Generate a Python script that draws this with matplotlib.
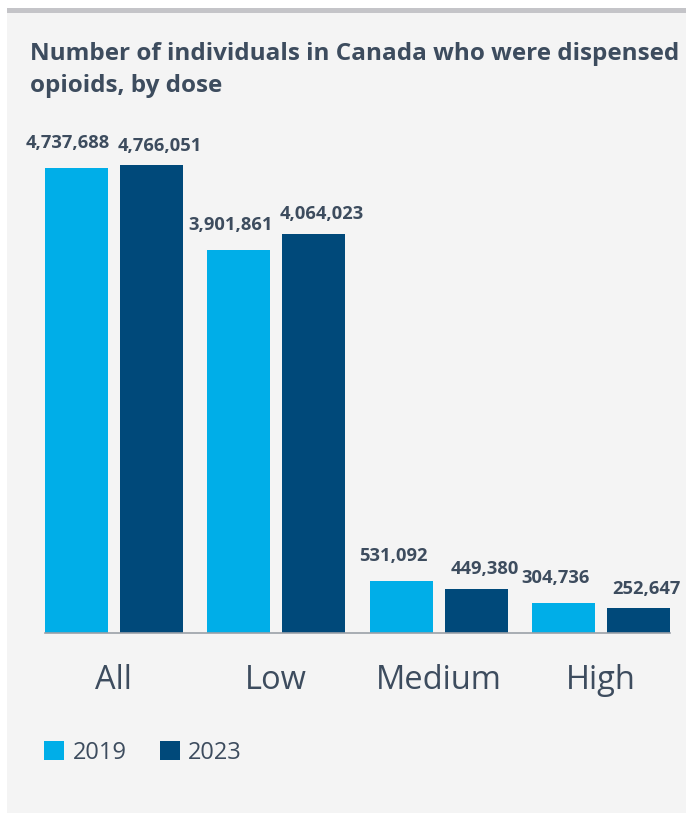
import matplotlib.pyplot as plt
from matplotlib.patches import Rectangle
import numpy as np

categories = ["All", "Low", "Medium", "High"]
years = ["2019", "2023"]
vals_2019 = [4737688, 3901861, 531092, 304736]
vals_2023 = [4766051, 4064023, 449380, 252647]

c2019 = "#00aee8"
c2023 = "#00497a"
txt = "#3d4c5e"
W, H = 686, 813

plt.rcParams['font.family'] = ['Open Sans', 'DejaVu Sans']
fig = plt.figure(figsize=(W / 100, H / 100), dpi=100)
fig.patch.set_facecolor("white")

# panel background and grey top strip
fig.patches.append(Rectangle((7 / W, 0), 679 / W, 800 / H, transform=fig.transFigure,
                             facecolor="#f4f4f4", edgecolor="none", zorder=-5))
fig.patches.append(Rectangle((7 / W, 800 / H), 679 / W, 5 / H, transform=fig.transFigure,
                             facecolor="#c4c4c8", edgecolor="none", zorder=-5))

fig.text(30 / W, 1 - 70 / H, "Number of individuals in Canada who were dispensed\nopioids, by dose",
         fontsize=17.5, fontweight="bold", color=txt, va="center", ha="left", linespacing=1.4)

ax = fig.add_axes([45 / W, 180 / H, 625 / W, 491 / H], zorder=2)
ax.set_facecolor("none")

x = np.arange(len(categories))
bw = 0.387
off = 0.23
b1 = ax.bar(x - off, vals_2019, bw, color=c2019, label=years[0], zorder=2)
b2 = ax.bar(x + off, vals_2023, bw, color=c2023, label=years[1], zorder=2)

# labels pushed apart a little so neighbours don't collide
for bars, vals, dx, dy in [(b1, vals_2019, -6, 18), (b2, vals_2023, 6, 14)]:
    for r, v in zip(bars, vals):
        ax.annotate(f"{v:,}", (r.get_x() + r.get_width() / 2, v), xytext=(dx, dy),
                    textcoords="offset points", ha="center", va="center",
                    fontsize=13.2, fontweight="bold", color=txt)

ax.set_xlim(-off - bw / 2, len(categories) - 1 + off + bw / 2)
ax.set_ylim(0, 5e6)
ax.set_yticks([])
for s in ["top", "right", "left"]:
    ax.spines[s].set_visible(False)
ax.spines["bottom"].set_color("#9aa0a8")
ax.spines["bottom"].set_linewidth(1.2)
ax.set_xticks(x)
ax.set_xticklabels(categories, fontsize=23.5, color=txt)
ax.tick_params(axis="x", length=0, pad=22)

leg = fig.legend(handles=[b1, b2], labels=years, loc="center left",
                 bbox_to_anchor=(23 / W, 1 - 753 / H), ncol=2, frameon=False,
                 fontsize=17, handlelength=0.85, handleheight=0.85, handletextpad=0.35,
                 columnspacing=1.4, labelcolor=txt)

fig.savefig("out.png", dpi=100)
